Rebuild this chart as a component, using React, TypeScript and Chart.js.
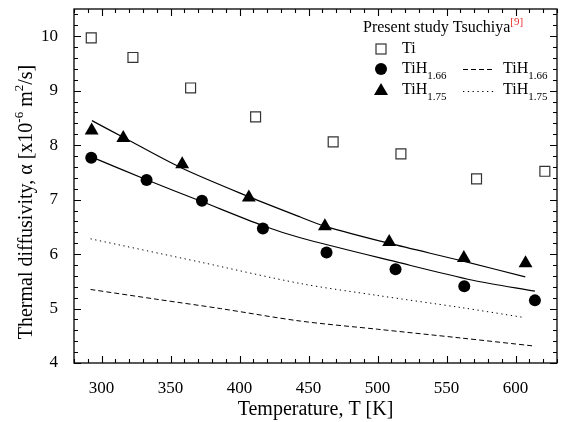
import React, { useEffect, useRef } from 'react';
import { Chart, registerables } from 'chart.js';
Chart.register(...registerables);

const FONT = '"Liberation Serif", "Times New Roman", serif';

// Axis ticks
const xTickValues = [300, 350, 400, 450, 500, 550, 600];
const yTickValues = [4, 5, 6, 7, 8, 9, 10];

// Present study: Ti
const tiT = [292.5, 322.7, 364.5, 411.6, 467.8, 516.9, 571.7, 621.2];
const tiA = [9.97, 9.61, 9.05, 8.52, 8.06, 7.84, 7.38, 7.52];
// Present study: TiH1.66
const h166T = [292.5, 332.6, 372.7, 416.9, 463.0, 513.0, 562.8, 614.0];
const h166A = [7.77, 7.36, 6.98, 6.47, 6.03, 5.72, 5.41, 5.15];
// Present study: TiH1.75
const h175T = [292.8, 315.7, 358.4, 406.7, 461.8, 508.4, 562.5, 607.2];
const h175A = [8.27, 8.13, 7.65, 7.04, 6.51, 6.22, 5.93, 5.83];
// Fit curves (solid)
const fit166T = [293, 333, 373, 417, 444, 513, 569, 614];
const fit166A = [7.78, 7.36, 6.96, 6.52, 6.3, 5.86, 5.52, 5.32];
const fit175T = [293, 316, 358, 407, 444, 462, 508, 562, 607];
const fit175A = [8.45, 8.14, 7.58, 7.05, 6.68, 6.51, 6.2, 5.87, 5.58];
// Tsuchiya [9]
const tsu166T = [292, 340, 386, 444, 500, 560, 614];
const tsu166A = [5.35, 5.17, 5.0, 4.77, 4.62, 4.46, 4.31];
const tsu175T = [292, 372, 444, 500, 560, 605];
const tsu175A = [6.28, 5.85, 5.46, 5.24, 5.02, 4.84];

const pts = (xs: number[], ys: number[]) => xs.map((x, i) => ({ x, y: ys[i] }));

type Part = { t: string; s: number; dy: number; c?: string };

function drawParts(ctx: CanvasRenderingContext2D, parts: Part[], x: number, y: number, align: 'left' | 'center') {
  let total = 0;
  const widths = parts.map((p) => {
    ctx.font = `${p.s}px ${FONT}`;
    const w = ctx.measureText(p.t).width;
    total += w;
    return w;
  });
  let cx = align === 'center' ? x - total / 2 : x;
  ctx.textAlign = 'left';
  ctx.textBaseline = 'middle';
  parts.forEach((p, i) => {
    ctx.font = `${p.s}px ${FONT}`;
    ctx.fillStyle = p.c || '#000';
    ctx.fillText(p.t, cx, y + p.dy);
    cx += widths[i];
  });
  return cx;
}

const framePlugin = {
  id: 'frame',
  afterDraw(chart: any) {
    const ctx: CanvasRenderingContext2D = chart.ctx;
    const { left, right, top, bottom } = chart.chartArea;
    const xs = chart.scales.x;
    const ys = chart.scales.y;
    ctx.save();
    ctx.strokeStyle = '#000';
    ctx.lineWidth = 1.3;
    ctx.strokeRect(left, top, right - left, bottom - top);
    ctx.lineWidth = 1.1;
    ctx.beginPath();
    for (let v = 280; v <= 630; v += 10) {
      const px = Math.round(xs.getPixelForValue(v)) + 0.5;
      const len = v % 50 === 0 ? 7 : 4;
      ctx.moveTo(px, bottom); ctx.lineTo(px, bottom - len);
      ctx.moveTo(px, top); ctx.lineTo(px, top + len);
    }
    for (let k = 0; k <= 32; k++) {
      const v = 4 + k * 0.2;
      const py = Math.round(ys.getPixelForValue(v)) + 0.5;
      const len = k % 5 === 0 ? 7 : 4;
      ctx.moveTo(left, py); ctx.lineTo(left + len, py);
      ctx.moveTo(right, py); ctx.lineTo(right - len, py);
    }
    ctx.stroke();

    // Axis titles
    drawParts(ctx, [{ t: 'Temperature, T [K]', s: 20, dy: 0 }], (left + right) / 2, 410, 'center');
    ctx.save();
    ctx.translate(27, 202);
    ctx.rotate(-Math.PI / 2);
    drawParts(ctx, [
      { t: 'Thermal diffusivity, \u03b1 [x10', s: 20, dy: 0 },
      { t: '-6', s: 13, dy: -7 },
      { t: ' m', s: 20, dy: 0 },
      { t: '2', s: 13, dy: -7 },
      { t: '/s]', s: 20, dy: 0 },
    ], 0, 0, 'center');
    ctx.restore();

    // Legend
    drawParts(ctx, [
      { t: 'Present study Tsuchiya', s: 16, dy: 0 },
      { t: '[9]', s: 11, dy: -6, c: '#e8342c' },
    ], 363, 28, 'left');
    const mx = 381;
    const r1 = 49, r2 = 69, r3 = 90;
    // square
    ctx.lineWidth = 1.2;
    ctx.strokeStyle = '#333';
    ctx.fillStyle = '#fff';
    ctx.fillRect(mx - 5, r1 - 5, 10, 10);
    ctx.strokeRect(mx - 5, r1 - 5, 10, 10);
    drawParts(ctx, [{ t: 'Ti', s: 16, dy: 0 }], 402, r1, 'left');
    // circle
    ctx.fillStyle = '#000';
    ctx.beginPath(); ctx.arc(mx, r2, 6, 0, Math.PI * 2); ctx.fill();
    drawParts(ctx, [{ t: 'TiH', s: 16, dy: 0 }, { t: '1.66', s: 11, dy: 7 }], 402, r2, 'left');
    // triangle
    ctx.fillStyle = '#000';
    ctx.beginPath();
    ctx.moveTo(mx, r3 - 7); ctx.lineTo(mx + 7, r3 + 5); ctx.lineTo(mx - 7, r3 + 5); ctx.closePath(); ctx.fill();
    drawParts(ctx, [{ t: 'TiH', s: 16, dy: 0 }, { t: '1.75', s: 11, dy: 7 }], 402, r3, 'left');
    // dashed & dotted samples
    ctx.strokeStyle = '#000';
    ctx.lineWidth = 1;
    ctx.setLineDash([5, 3]);
    ctx.beginPath(); ctx.moveTo(463, r2 + 0.5); ctx.lineTo(494, r2 + 0.5); ctx.stroke();
    ctx.setLineDash([1.3, 3.5]);
    ctx.beginPath(); ctx.moveTo(463, r3 + 1.5); ctx.lineTo(494, r3 + 1.5); ctx.stroke();
    ctx.setLineDash([]);
    drawParts(ctx, [{ t: 'TiH', s: 16, dy: 0 }, { t: '1.66', s: 11, dy: 7 }], 503, r2, 'left');
    drawParts(ctx, [{ t: 'TiH', s: 16, dy: 0 }, { t: '1.75', s: 11, dy: 7 }], 503, r3, 'left');
    ctx.restore();
  },
};

export default function App() {
  const ref = useRef<HTMLCanvasElement>(null);
  useEffect(() => {
    const lineDs = (xs: number[], ys: number[], dash: number[], tension = 0.3) => ({
      data: pts(xs, ys),
      showLine: true,
      borderColor: '#000',
      borderWidth: dash.length ? 1 : 1.2,
      borderDash: dash,
      pointRadius: 0,
      pointHoverRadius: 0,
      tension,
      fill: false,
    });
    const chart = new Chart(ref.current!, {
      type: 'scatter',
      data: {
        datasets: [
          lineDs(fit166T, fit166A, []),
          lineDs(fit175T, fit175A, []),
          lineDs(tsu166T, tsu166A, [5, 3]),
          lineDs(tsu175T, tsu175A, [1.3, 3.5]),
          {
            data: pts(tiT, tiA),
            pointStyle: 'rect',
            pointRadius: 7,
            pointBackgroundColor: '#fff',
            pointBorderColor: '#333',
            pointBorderWidth: 1.2,
          },
          {
            data: pts(h166T, h166A),
            pointStyle: 'circle',
            pointRadius: 6,
            pointBackgroundColor: '#000',
            pointBorderColor: '#000',
            pointBorderWidth: 0,
          },
          {
            data: pts(h175T, h175A),
            pointStyle: 'triangle',
            pointRadius: 8,
            pointBackgroundColor: '#000',
            pointBorderColor: '#000',
            pointBorderWidth: 0,
          },
        ] as any,
      },
      options: {
        animation: false,
        responsive: false,
        devicePixelRatio: 1,
        layout: { autoPadding: false, padding: { top: 9, right: 5, left: 0, bottom: 0 } },
        plugins: { legend: { display: false }, tooltip: { enabled: false } },
        scales: {
          x: {
            type: 'linear',
            min: 280,
            max: 630,
            grid: { display: false },
            border: { display: false },
            afterBuildTicks: (s: any) => { s.ticks = xTickValues.map((v) => ({ value: v })); },
            afterFit: (s: any) => { s.height = 59; s.paddingLeft = 0; s.paddingRight = 0; },
            ticks: { color: '#000', font: { family: FONT, size: 17 }, padding: 7, maxRotation: 0 },
          },
          y: {
            type: 'linear',
            min: 4,
            max: 10.5,
            grid: { display: false },
            border: { display: false },
            afterBuildTicks: (s: any) => { s.ticks = yTickValues.map((v) => ({ value: v })); },
            afterFit: (s: any) => { s.width = 74; s.paddingTop = 0; s.paddingBottom = 0; },
            ticks: { color: '#000', font: { family: FONT, size: 17 }, padding: 8 },
          },
        },
      } as any,
      plugins: [framePlugin],
    });
    return () => chart.destroy();
  }, []);
  return (
    <div style={{ position: 'absolute', left: 0, top: 0, width: 562, height: 422, background: '#fff' }}>
      <canvas ref={ref} width={562} height={422} style={{ width: 562, height: 422 }} />
    </div>
  );
}
